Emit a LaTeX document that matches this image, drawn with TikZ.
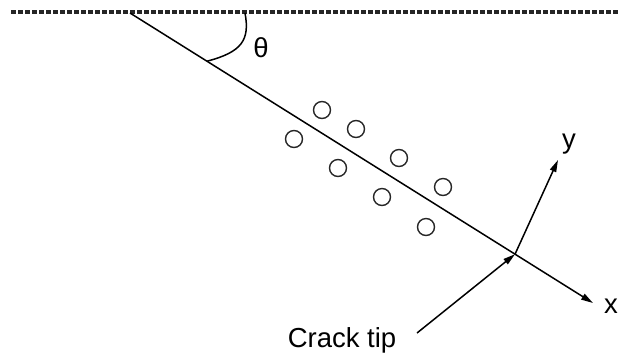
\documentclass[tikz,border=0pt]{standalone}
\usepackage{fontspec}
\setmainfont{Liberation Sans}
\usetikzlibrary{arrows.meta}
\begin{document}
\begin{tikzpicture}[x=1pt,y=-1pt,
  part/.style={draw, circle, minimum size=17pt, inner sep=0pt, line width=1.4pt, black!85},
  axis/.style={line width=1.5pt, -{Triangle[length=12pt,width=6.5pt]}},
  lbl/.style={font=\fontsize{27.5}{32}\selectfont, inner sep=0pt}]
\useasboundingbox (0,0) rectangle (620,360);
% free surface
\coordinate (l0) at (11,12);
\coordinate (l1) at (620,12);
\draw[line width=3.2pt, dash pattern=on 5pt off 2pt, black!85] (l0) -- (l1);
% crack line
\coordinate (s) at (130,13);
\coordinate (xe) at (593,303);
\coordinate (tip) at (515,254.2);
\draw[axis] (s) -- (xe);
% y axis
\coordinate (ye) at (558,160);
\draw[axis] (tip) -- (ye);
% angle
\coordinate (a1) at (245,13);
\coordinate (a2) at (207,61.2);
\draw[line width=1.5pt] (a1) .. controls (250,40) and (242,52) .. (a2);
\node[lbl] (th) at (261,48) {θ};
% particles
\node[part] (p1) at (322,110) {};
\node[part] (p2) at (356,129) {};
\node[part] (p3) at (294,139) {};
\node[part] (p4) at (399,158) {};
\node[part] (p5) at (338,168) {};
\node[part] (p6) at (443,187) {};
\node[part] (p7) at (382,197) {};
\node[part] (p8) at (426,227) {};
% labels
\node[lbl] (xl) at (611,306) {x};
\node[lbl] (yl) at (569,144) {y};
\node[lbl] (lab) at (342,340) {Crack tip};
\coordinate (ct) at (417,333);
\draw[axis] (ct) -- (tip);
\end{tikzpicture}
\end{document}
